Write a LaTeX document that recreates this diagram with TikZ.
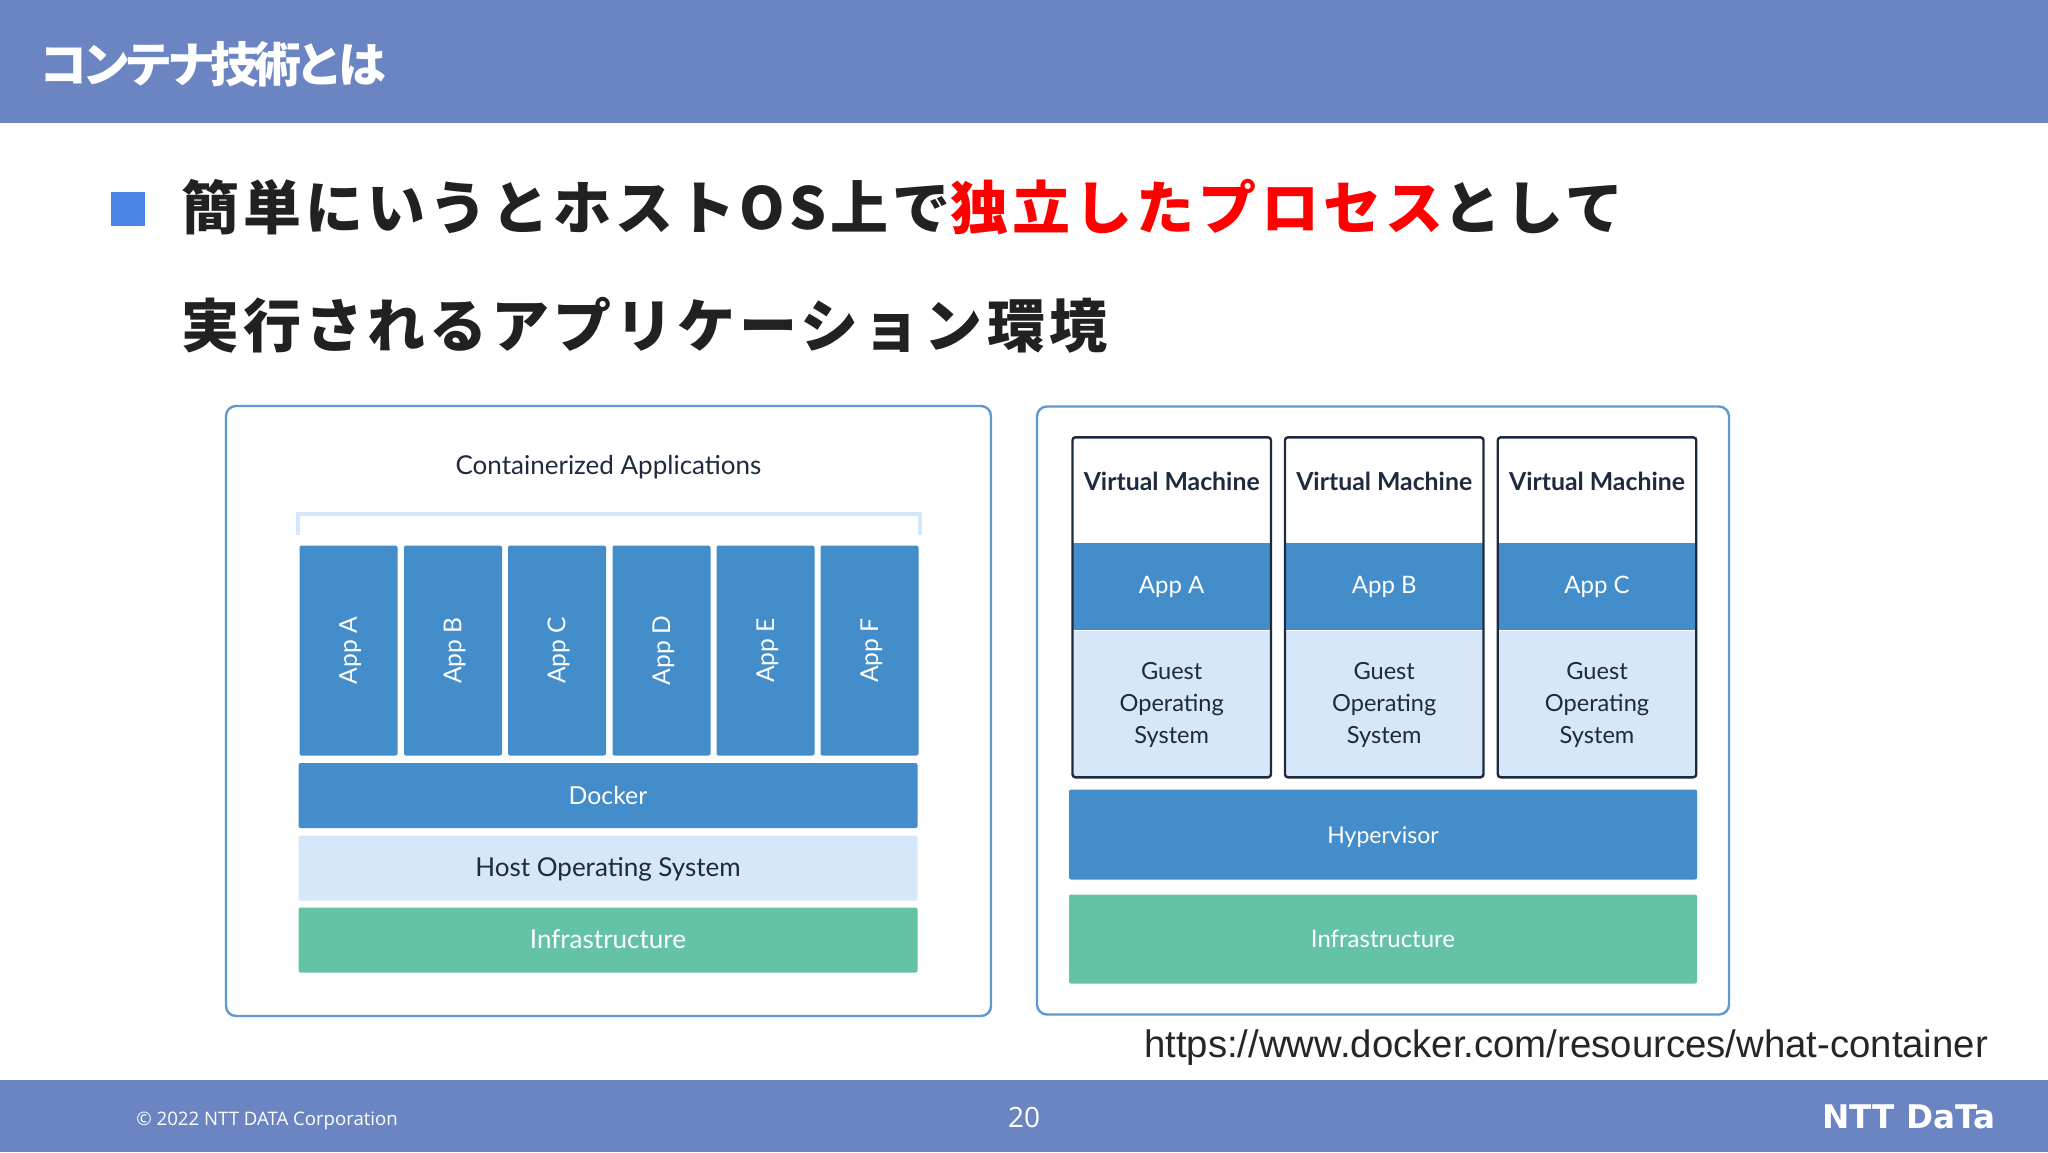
\documentclass[tikz,border=0pt]{standalone}
\usepackage{fontspec}
\setmainfont{Lato}
\newfontfamily\jpfont{Noto Sans CJK JP}
\newfontfamily\urlfont{Liberation Sans}
\newfontfamily\footfont{Open Sans}
\newfontfamily\logofont{DejaVu Sans}
\definecolor{barblue}{HTML}{6B85C3}
\definecolor{bulletblue}{HTML}{4A86E8}
\definecolor{appblue}{HTML}{448DCB}
\definecolor{paleblue}{HTML}{D5E7F8}
\definecolor{infragreen}{HTML}{64C3A6}
\definecolor{framecol}{HTML}{5E9ACF}
\definecolor{inkdark}{HTML}{1E2A3E}
\tikzset{
  block/.style 2 args={minimum width=#1*0.5pt, minimum height=#2*0.5pt, inner sep=0pt, outer sep=0pt},
  appbox/.style={fill=appblue, rounded corners=1pt, text=white, font=\fontsize{12}{12}\selectfont},
  osbox/.style={fill=paleblue, rounded corners=1pt, text=inkdark, font=\fontsize{12}{12}\selectfont},
  infrabox/.style={fill=infragreen, rounded corners=1pt, text=white, font=\fontsize{12}{12}\selectfont},
  framebox/.style={draw=framecol, line width=1.2pt, fill=white, rounded corners=5pt},
  vmbox/.style={draw=inkdark, line width=1.2pt, rounded corners=1.5pt},
  label/.style={inner sep=0pt, font=\fontsize{12}{12}\selectfont, text=inkdark},
  oneline/.style={text height=8.6pt, text depth=0pt},
  headline/.style={inner sep=0pt, anchor=west, text=black!87},
}
\newcommand{\headfont}{\jpfont\addfontfeature{LetterSpace=7}\fontsize{29}{29}\selectfont\bfseries}
\begin{document}
\begin{tikzpicture}[x=0.5pt,y=-0.5pt]
    \useasboundingbox (0,0) rectangle (2048,1152);
    \fill[white] (0,0) rectangle (2048,1152);
    % bars
    \fill[barblue] (0,0) rectangle (2048,123);
    \fill[barblue] (0,1080) rectangle (2048,1152);
    \node[text=white, inner sep=0pt, anchor=west] (title) at (39,64)
        {\jpfont\addfontfeature{LetterSpace=-11}\fontsize{24}{24}\selectfont\bfseries コンテナ技術とは};
    % headline
    \fill[bulletblue] (111,192) rectangle (145,226);
    \node[headline] (line1) at (181,207)
        {\headfont 簡単にいうとホストOS上で\textcolor{red}{独立したプロセス}として};
    \node[headline] (line2) at (181,325)
        {\headfont 実行されるアプリケーション環境};
    % left panel
    \node[framebox, block={765}{610}] (leftframe) at (608.5,711) {};
    \node[label, oneline, font=\fontsize{13}{13}\selectfont] (containerized) at (608.5,465.5) {Containerized Applications};
    \draw[paleblue, line width=2pt] (298,535) -- (298,514) -- (920,514) -- (920,535);
    \foreach \c/\t in {348.5/A,453/B,557/C,661.5/D,765.5/E,869.5/F}
        \node[appbox, block={98}{210}, font=\fontsize{12.3}{12.3}\selectfont] (app\t) at (\c,650.5)
            {\rotatebox{90}{\rule{0pt}{10.6pt}App \t}};
    \node[appbox, oneline, block={619}{65}, font=\fontsize{12.4}{12.4}\selectfont] (docker) at (608,795.5) {Docker};
    \node[osbox, oneline, block={619}{65}, font=\fontsize{13}{13}\selectfont] (hostos) at (608,868) {Host Operating System};
    \node[infrabox, oneline, block={619}{65}, font=\fontsize{13}{13}\selectfont] (infraleft) at (608,940) {Infrastructure};
    % right panel
    \node[framebox, block={692}{608}] (rightframe) at (1383,710.5) {};
    \foreach \c/\t in {1171.7/A,1384.2/B,1597/C} {
        \node[appbox, block={198}{87}, rounded corners=0pt] (vmapp\t) at (\c,586.5) {App \t};
        \node[osbox, block={198}{146}, rounded corners=0pt, align=center, font=\fontsize{11.8}{12}\selectfont] (guest\t) at (\c,703.5)
            {\rule{0pt}{10.1pt}Guest\\[4pt]Operating\\[4pt]System};
        \node[vmbox, block={198.5}{340}] (vm\t) at (\c,607.3) {};
        \node[label, font=\fontsize{12.4}{12.4}\selectfont\bfseries] (vmlabel\t) at (\c,481.5) {Virtual Machine};
    }
    \node[appbox, oneline, block={628}{90}, font=\fontsize{11.5}{11.5}\selectfont] (hypervisor) at (1383,834.5) {Hypervisor};
    \node[infrabox, oneline, block={628}{89}] (inforight) at (1383,939) {Infrastructure};
    % source and footer
    \node[inner sep=0pt, text=black!85] (source) at (1566,1047.5)
        {\urlfont\fontsize{19.17}{19.17}\selectfont https://www.docker.com/resources/what-container};
    \node[inner sep=0pt, text=white, anchor=west] (copyright) at (136,1121)
        {\footfont\fontsize{9.3}{9.3}\selectfont © 2022 NTT DATA Corporation};
    \node[inner sep=0pt, text=white] (pagenum) at (1024,1117)
        {\footfont\fontsize{14}{14}\selectfont 20};
    \node[inner sep=0pt, text=white, anchor=east] (logo) at (1996,1117)
        {\logofont\fontsize{16.3}{16.3}\selectfont\bfseries NTT DaTa};
\end{tikzpicture}
\end{document}
